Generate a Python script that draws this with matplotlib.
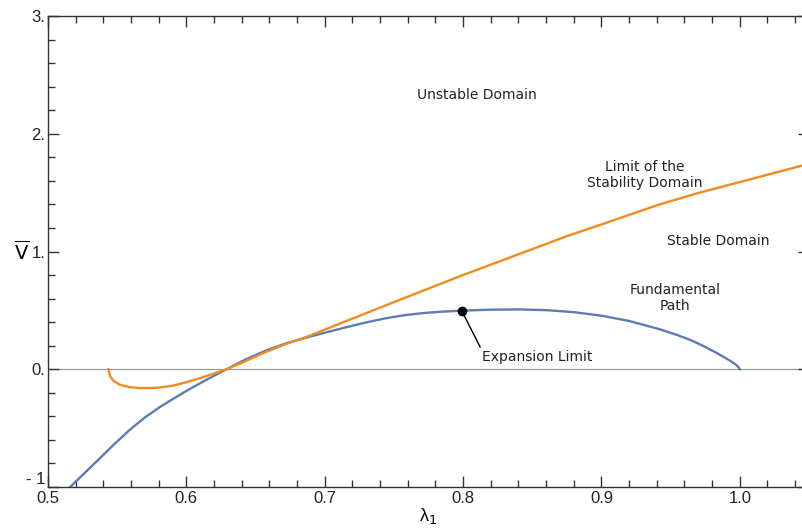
import matplotlib
matplotlib.use("Agg")
from matplotlib import pyplot as plt
from matplotlib.ticker import MultipleLocator, FixedLocator, FixedFormatter

# fundamental path (blue)
path_x = [0.516, 0.527, 0.538, 0.548, 0.559, 0.570, 0.581, 0.592, 0.603, 0.616,
          0.629, 0.643, 0.658, 0.672, 0.687, 0.700, 0.715, 0.730, 0.745, 0.758,
          0.772, 0.786, 0.800, 0.820, 0.840, 0.860, 0.880, 0.900, 0.920, 0.942,
          0.955, 0.965, 0.975, 0.983, 0.989, 0.994, 0.997, 0.999, 1.000]
path_y = [-1.0, -0.875, -0.75, -0.635, -0.515, -0.41, -0.32, -0.24, -0.164, -0.08,
          0.0, 0.085, 0.161, 0.22, 0.27, 0.31, 0.355, 0.398, 0.435, 0.46,
          0.478, 0.49, 0.498, 0.506, 0.508, 0.502, 0.485, 0.455, 0.41, 0.34,
          0.29, 0.245, 0.19, 0.14, 0.10, 0.065, 0.04, 0.018, 0.0]

# limit of the stability domain (orange)
limit_x = [0.5436, 0.545, 0.547, 0.552, 0.559, 0.5665, 0.574, 0.581, 0.590, 0.600,
           0.610, 0.6195, 0.629, 0.6387, 0.658, 0.672, 0.687, 0.720, 0.7543, 0.7977,
           0.842, 0.875, 0.905, 0.942, 0.971, 1.0145, 1.050]
limit_y = [0.0, -0.06, -0.095, -0.132, -0.152, -0.16, -0.16, -0.155, -0.14, -0.11,
           -0.075, -0.038, 0.0, 0.048, 0.15, 0.215, 0.275, 0.43, 0.59, 0.79,
           0.985, 1.13, 1.25, 1.40, 1.50, 1.635, 1.745]

expansion_limit = (0.799, 0.497)

x_ticks = [0.5, 0.6, 0.7, 0.8, 0.9, 1.0]
x_tick_labels = ["0.5", "0.6", "0.7", "0.8", "0.9", "1.0"]
y_ticks = [-1, 0, 1, 2, 3]
y_tick_labels = ["- 1", "0.", "1.", "2.", "3."]

fig = plt.figure(figsize=(8.03, 5.31), dpi=100)
ax = fig.add_axes([48 / 803, 1 - 487 / 531, 761 / 803, 471 / 531])

ax.axhline(0, color="#9a9a9a", lw=0.9, zorder=1)
ax.plot(path_x, path_y, color="#5b7db5", lw=1.7, zorder=2)
ax.plot(limit_x, limit_y, color="#f28b1e", lw=1.7, zorder=3)
ax.plot(*expansion_limit, "o", color="black", ms=6, zorder=4)

ax.set_xlim(0.5, 1.05)
ax.set_ylim(-1, 3)

# frame ticks, Mathematica style
ax.xaxis.set_major_locator(FixedLocator(x_ticks))
ax.xaxis.set_major_formatter(FixedFormatter(x_tick_labels))
ax.yaxis.set_major_locator(FixedLocator(y_ticks))
ax.yaxis.set_major_formatter(FixedFormatter(y_tick_labels))
ax.xaxis.set_minor_locator(MultipleLocator(0.02))
ax.yaxis.set_minor_locator(MultipleLocator(0.2))
ax.tick_params(which="both", direction="in", top=True, right=True, color="#333333")
ax.tick_params(which="major", length=8, width=1)
ax.tick_params(which="minor", length=5, width=1)
ax.tick_params(axis="x", pad=3)
ax.tick_params(axis="y", pad=2)
for lbl in ax.get_xticklabels() + ax.get_yticklabels():
    lbl.set_fontfamily("Liberation Sans")
    lbl.set_fontsize(12)
    lbl.set_color("#222222")
# "-1" sits a bit above the corner so it does not run into "0.5"
ax.get_yticklabels()[0].set_verticalalignment("bottom")
for sp in ax.spines.values():
    sp.set_color("#333333")
    sp.set_linewidth(1)

ax.set_xlabel("λ$_1$", fontsize=13, family="Liberation Sans", labelpad=0)
ax.set_ylabel("$\\overline{\\mathsf{V}}$", fontsize=14, rotation=0, va="center", ha="center")
ax.yaxis.set_label_coords(-0.035, 0.5)

txt = dict(fontsize=10, color="#222222", ha="center", va="center", family="DejaVu Sans")
ax.text(0.8097, 2.327, "Unstable Domain", **txt)
ax.text(0.9314, 1.65, "Limit of the\nStability Domain", **txt)
ax.text(0.9843, 1.09, "Stable Domain", **txt)
ax.text(0.953, 0.605, "Fundamental\nPath", **txt)

ax.annotate("Expansion Limit", xy=expansion_limit, xytext=(0.8134, 0.105),
            fontsize=10, color="#222222", ha="left", va="center",
            arrowprops=dict(arrowstyle="-", color="black", lw=1,
                            relpos=(0, 1), shrinkA=0, shrinkB=3))

fig.savefig("out.png", dpi=100)
